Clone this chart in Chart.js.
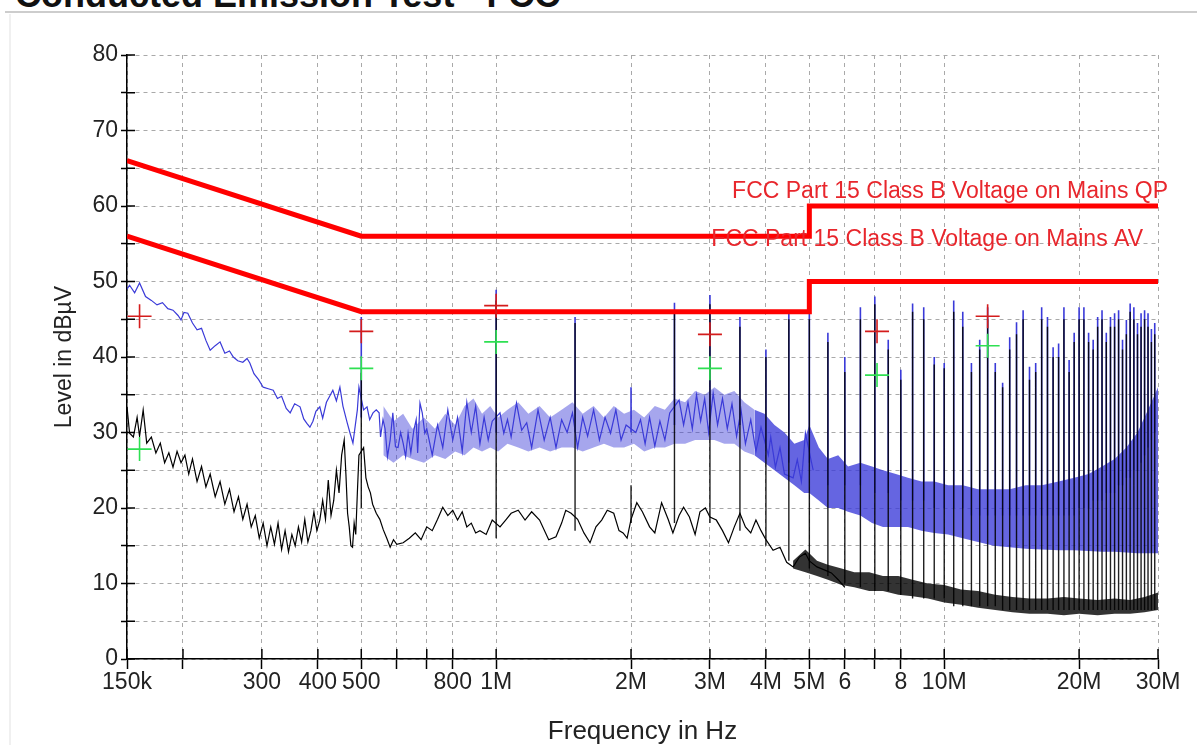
<!DOCTYPE html>
<html>
<head>
<meta charset="utf-8">
<script src="https://cdn.jsdelivr.net/npm/chart.js@4"></script>
<style>
  body { margin: 0; width: 1197px; height: 745px; overflow: hidden; position: relative; background: #fff; }
  #title { position: absolute; left: 15px; top: -23px; font: bold 36px/36px "Liberation Sans", Arial, sans-serif; color: #111; white-space: nowrap; }
  #rule { position: absolute; left: 5px; right: 0; top: 11px; height: 2px; background: #cdcdcd; }
  #panel { position: absolute; left: 9px; top: 14px; right: 0; bottom: 0; border-left: 2px solid #f0f0f0; }
  canvas { position: absolute; left: 0; top: 0; }
</style>
</head>
<body>
<div id="title">Conducted Emission Test - FCC</div>
<div id="rule"></div>
<div id="panel"></div>
<canvas id="chart" width="1197" height="745"></canvas>
<script>
// frequencies are in kHz, levels in dBµV
const FONT = '"Liberation Sans", Arial, sans-serif';

const xTickValues = [150, 200, 300, 400, 500, 600, 700, 800, 1000, 2000, 3000, 4000, 5000, 6000, 7000, 8000, 10000, 20000, 30000];
const xTickLabels = ["150k", "", "300", "400", "500", "", "", "800", "1M", "2M", "3M", "4M", "5M", "6", "", "8", "10M", "20M", "30M"];

const limitNames = ["FCC Part 15 Class B Voltage on Mains QP", "FCC Part 15 Class B Voltage on Mains AV"];
const qpLimitFreq = [150, 500, 5000, 5000, 30000];
const qpLimit = [66, 56, 56, 60, 60];
const avLimitFreq = [150, 500, 5000, 5000, 30000];
const avLimit = [56, 46, 46, 50, 50];

// final measurement markers
const markFreq = [160, 500, 1000, 3000, 7080, 12500];
const qpMark = [45.4, 43.4, 46.8, 43.0, 43.4, 45.4];
const avMark = [27.8, 38.5, 42.0, 38.5, 37.6, 41.5];

// peak scan (blue), below 5 MHz
const pkFreq = [
  150, 152, 156, 160, 165, 170, 175, 180, 185, 190,
  195, 198, 201, 205, 210, 215, 220, 225, 230, 236,
  242, 248, 254, 259, 265, 272, 278, 282, 288, 295,
  302, 310, 318, 325, 332, 340, 347, 355, 365, 372,
  378, 384, 390, 396, 404, 410, 418, 425, 432, 440,
  448, 455, 465, 472, 479, 485, 490, 494, 506, 515,
  522, 531, 540, 548, 552, 559, 565, 572, 580, 588,
  596, 604, 612, 620, 628, 636, 645, 655, 663, 668,
  676, 684, 693, 700, 720, 740, 760, 780, 800, 820,
  840, 860, 880, 900, 920, 940, 960, 980, 1020, 1040,
  1060, 1080, 1110, 1140, 1170, 1200, 1240, 1280, 1320, 1360,
  1400, 1440, 1480, 1520, 1560, 1600, 1650, 1700, 1750, 1800,
  1850, 1900, 1950, 2050, 2100, 2150, 2200, 2260, 2320, 2380,
  2440, 2560, 2620, 2680, 2740, 2800, 2860, 2920, 2980, 3050,
  3120, 3200, 3280, 3360, 3440, 3520, 3600, 3700, 3800, 3900,
  4050, 4100, 4200, 4300, 4400, 4600, 4700, 4800, 4900, 5100
];
const pkLevel = [
  49, 49.5, 48.5, 49.8, 48, 47.5, 46.9, 47.2, 46.4, 46.2,
  45.5, 44.9, 45.9, 45.8, 44.5, 43.6, 43.8, 42.2, 40.9, 41.5,
  42, 40.5, 40.8, 40, 39.5, 39.3, 39.8, 39.2, 37.8, 37,
  36, 35.8, 35.6, 34.5, 34.8, 33.2, 32.6, 33.8, 33.4, 31.8,
  31.2, 30.7, 31.5, 32.8, 33.4, 31.9, 34, 34.8, 35.6, 34.2,
  36, 33.5, 31.3, 29.9, 28.6, 31, 33, 36, 33, 33.4,
  31.7, 32.6, 33, 32.6, 29.4, 31.7, 30.5, 26.8, 29, 32.6,
  28.1, 28, 30, 28.6, 26.8, 29.9, 27.3, 30.3, 31.7, 27.3,
  33.9, 32.6, 29.9, 30.5, 27, 31, 28, 33, 29, 32,
  27.5, 34, 30, 33.5, 28.5, 32, 29, 31.5, 32.6, 29.9,
  31.7, 29.4, 33.9, 30.3, 31.3, 28, 33, 29, 32, 28,
  31.7, 30, 32.6, 28, 32, 29.5, 33, 29, 32, 29.9,
  33, 29, 31, 30, 31.7, 28.5, 32, 28.2, 31.5, 29,
  32.6, 34.3, 31, 34, 30.5, 35, 31.5, 34.5, 30, 35.2,
  31, 34.5, 30.5, 33.8, 29.5, 33, 28.5, 31.7, 27.5, 30.7,
  27, 29.4, 25.4, 28, 24.5, 24, 26.4, 23.5, 29.9, 25
];

// average scan (black), below 6 MHz
const avFreq = [
  150, 152, 155, 158, 160, 163, 166, 170, 174, 178,
  182, 186, 190, 194, 198, 202, 206, 210, 215, 220,
  225, 230, 236, 242, 248, 254, 260, 266, 272, 278,
  284, 290, 296, 302, 308, 314, 320, 326, 332, 338,
  344, 350, 356, 362, 368, 374, 380, 386, 392, 398,
  404, 410, 416, 422, 428, 434, 440, 446, 452, 458,
  462, 466, 470, 474, 478, 482, 486, 490, 494, 506,
  512, 518, 524, 530, 540, 550, 560, 570, 580, 590,
  600, 620, 640, 660, 680, 700, 720, 740, 760, 780,
  800, 820, 840, 860, 880, 900, 920, 950, 980, 1020,
  1050, 1080, 1120, 1160, 1200, 1250, 1310, 1360, 1400, 1430,
  1470, 1520, 1570, 1620, 1670, 1720, 1770, 1830, 1880, 1920,
  1960, 2000, 2060, 2120, 2200, 2260, 2340, 2420, 2480, 2560,
  2620, 2700, 2780, 2850, 2930, 3000, 3100, 3200, 3300, 3400,
  3500, 3600, 3700, 3800, 3900, 4000, 4150, 4300, 4450, 4600,
  4750, 4900, 5000, 5200, 5400, 5600, 5800, 6000
];
const avLevel = [
  33.4, 29.9, 29.4, 32, 29.5, 33, 28.6, 29.4, 27.3, 28.6,
  26, 27.3, 25.4, 27.5, 26, 27, 24.5, 26.5, 23.5, 25.5,
  22.8, 24.5, 21.5, 23.5, 20.5, 22.5, 19.5, 21.5, 18.5, 20.5,
  17.5, 19, 16, 18, 15, 17.5, 15.2, 18, 14.5, 17,
  14.2, 16.5, 15, 17.5, 15.5, 18.5, 15.5, 17, 19.5, 17,
  18.4, 21, 18.5, 23.7, 19, 21, 25, 22, 27, 29,
  24.5, 19.3, 17.5, 15, 14.8, 18, 16.5, 22, 27, 28,
  24, 22.8, 22, 20.5, 19.3, 18.5, 17.1, 16, 14.8, 15.8,
  15.2, 15.4, 16, 16.7, 15.8, 17.5, 17, 18.5, 20.1, 19,
  19.7, 18.4, 19.5, 17.5, 18, 16.7, 17, 16.5, 18.4, 17.5,
  18.4, 19.3, 19.7, 18.4, 19.5, 18.4, 15.8, 16.2, 18, 19.7,
  19.3, 18.5, 16.7, 15.4, 17.5, 18.4, 19.7, 19.3, 17, 16.7,
  16, 18.5, 20.7, 19.5, 17.5, 16.7, 20.7, 18.5, 16.7, 19,
  20.1, 18.8, 16.5, 19.5, 20, 18.8, 18.4, 17, 15.4, 17.5,
  19.3, 17.5, 16.7, 18.4, 17, 15.8, 14.4, 14.8, 12.8, 12.2,
  13.5, 14, 13, 12.2, 11.8, 11.4, 10.5, 9.5
];

// dense noise envelopes
const pkBandFreq = [
  560, 590, 620, 650, 690, 730, 770, 810, 850, 890,
  930, 970, 1010, 1060, 1120, 1180, 1250, 1320, 1400, 1480,
  1560, 1650, 1740, 1830, 1930, 2030, 2140, 2260, 2380, 2500,
  2640, 2780, 2920, 3070, 3230, 3400, 3580, 3770, 3970, 4180,
  4400, 4630, 4870, 5000, 5250, 5500, 5800, 6100, 6500, 6900,
  7300, 7800, 8300, 8900, 9500, 10200, 11000, 11900, 12900, 14000,
  15200, 16500, 18000, 19500, 21000, 22500, 24000, 25500, 27000, 28500,
  30000
];
const pkBandHi = [
  33.5, 31.5, 32.5, 30.5, 32, 30.5, 32.5, 31, 33.5, 34.5,
  32.5, 33.5, 32, 33, 34, 32.5, 33.5, 32, 33, 34,
  32.5, 33.5, 32, 33.5, 32.5, 33, 32, 33.5, 33, 34.5,
  34, 35.5, 35, 36, 35, 35.5, 34, 33, 32.5, 31,
  30, 28.5, 29, 31, 28, 26.5, 27, 25.5, 26, 25.5,
  25, 24.5, 24, 23.5, 23.5, 23, 23, 22.5, 22.5, 22.5,
  23, 23, 23.5, 24, 24.5, 25.5, 26.5, 28, 30, 33,
  36
];
const pkBandLo = [
  27, 26, 27, 26.5, 26, 27, 26.5, 27.5, 27, 28,
  27.5, 28, 27.5, 28.5, 28, 27.5, 28, 27.5, 28, 28,
  27.5, 28, 28.5, 28, 28, 28.5, 27.5, 28, 28, 28.5,
  28.5, 29, 29, 29, 28.5, 28.5, 27.5, 27, 26, 25,
  24, 23, 22, 22, 21, 20, 20, 19.5, 19, 18,
  17.5, 17.5, 17.5, 17, 16.7, 16.5, 16, 15.5, 15, 14.8,
  14.6, 14.5, 14.4, 14.4, 14.3, 14.2, 14.2, 14.1, 14, 14,
  14
];
const avBandFreq = [
  4600, 4900, 5200, 5500, 5900, 6300, 6800, 7300, 7900,
  8500, 9200, 10000, 10900, 11900, 13000, 14200, 15500, 17000, 18500,
  20000, 22000, 24000, 26000, 28000, 30000
];
const avBandHi = [
  13, 14.5, 13, 12.5, 12, 11.5, 11.5, 11, 11,
  10.5, 10, 9.8, 9.2, 9, 8.5, 8.2, 8, 8, 8.2,
  8, 7.8, 8, 7.8, 8.2, 8.8
];
const avBandLo = [
  12, 11.5, 11, 10.5, 9.8, 9.5, 9, 9, 8.5,
  8.3, 8, 7.5, 7.2, 6.8, 6.5, 6.2, 6, 6, 5.8,
  6, 5.8, 6, 6, 6.2, 6.5
];

// 500 kHz harmonics
const spikeFreq = [
  500, 1000, 1500, 2000, 2500, 3000, 3500, 4000, 4500, 5000,
  5500, 6000, 6500, 7000, 7500, 8000, 8500, 9000, 9500, 10000,
  10500, 11000, 11500, 12000, 12500, 13000, 13500, 14000, 14500, 15000,
  15500, 16000, 16500, 17000, 17500, 18000, 18500, 19000, 19500, 20000,
  20500, 21000, 21500, 22000, 22500, 23000, 23500, 24000, 24500, 25000,
  25500, 26000, 26500, 27000, 27500, 28000, 28500, 29000, 29500
];
const pkSpikeTop = [
  45.3, 48.9, 45.3, 36, 47.2, 48.2, 45.3, 41, 45.8, 45.8,
  43.2, 40, 46.6, 48, 42.3, 38.3, 47.1, 46.6, 40, 39.2,
  47.5, 46, 39.2, 42.3, 46.6, 39.2, 36.6, 42.6, 44.6, 46.2,
  38.7, 39.2, 46.6, 45.3, 41.3, 41.8, 46.6, 39.6, 43.2, 46.6,
  46.6, 43.2, 42.3, 45.3, 46.2, 43.2, 45.3, 45.8, 46.2, 42.3,
  44.9, 47.1, 46.6, 44.5, 45.8, 46.2, 45.8, 43.7, 44.5
];
const pkSpikeBase = [
  32, 30, 30, 30, 31, 32, 31, 28, 26, 26,
  23, 23, 23, 22, 22, 21, 21, 21, 20, 20,
  20, 20, 19, 19, 19, 19, 19, 19, 19, 19,
  19, 19, 19, 19, 19, 19, 19, 19, 19, 20,
  20, 20, 21, 21, 21, 22, 22, 22, 23, 23,
  24, 24, 25, 25, 26, 27, 28, 29, 30
];
const avSpikeTop = [
  37.9, 47.5, 44.5, 23, 46, 47, 44, 40, 45, 45,
  42, 38, 45, 47, 41, 37, 46, 45, 39, 38.5,
  46, 44, 38, 41, 45, 38, 36, 41, 43, 45,
  37, 38, 45, 44, 40, 40, 45, 38, 42, 45,
  45, 42, 41, 44, 45, 42, 44, 44, 45, 41,
  43, 46, 45, 43, 44, 45, 44, 42, 43
];
const avSpikeBase = [
  20, 16, 17, 18, 18, 18, 17, 15, 13, 12,
  11, 10, 9.5, 9, 9, 8.5, 8, 8, 8, 8,
  7, 7, 7, 7, 7, 7, 6.5, 6.5, 6.5, 6.5,
  6.5, 6.5, 6.5, 6.5, 6.5, 6.5, 6.5, 6.5, 6.5, 6.5,
  6.5, 6.5, 6.5, 6.5, 6.5, 6.5, 6.5, 6.5, 6.5, 6.5,
  6.5, 6.5, 6.5, 6.5, 6.5, 6.5, 6.5, 6.5, 6.5
];

const pts = (freqs, vals) => freqs.map((f, i) => ({ x: f * 1000, y: vals[i] }));
const spikes = (freqs, base, top) =>
  freqs.flatMap((f, i) => [{ x: f * 1000, y: base[i] }, { x: f * 1000, y: top[i] }, { x: f * 1000, y: null }]);

const BLUE = "#3a3ad8";

const innerTicks = {
  id: "innerTicks",
  afterDraw(chart) {
    const { ctx, chartArea: a, scales: { x, y } } = chart;
    ctx.save();
    ctx.strokeStyle = "#000";
    ctx.lineWidth = 1.5;
    ctx.beginPath();
    y.ticks.forEach(t => {
      const py = y.getPixelForValue(t.value);
      ctx.moveTo(a.left, py);
      ctx.lineTo(a.left + 8, py);
    });
    x.ticks.forEach(t => {
      const px = x.getPixelForValue(t.value);
      ctx.moveTo(px, a.bottom);
      ctx.lineTo(px, a.bottom - 10);
    });
    ctx.stroke();
    ctx.restore();
  }
};

const limitLabels = {
  id: "limitLabels",
  afterDatasetsDraw(chart) {
    const { ctx, chartArea: a, scales: { y } } = chart;
    ctx.save();
    ctx.font = "23px " + FONT;
    ctx.fillStyle = "#e8262c";
    ctx.textAlign = "right";
    ctx.textBaseline = "middle";
    ctx.fillText(limitNames[0], a.right + 10, y.getPixelForValue(61.85));
    ctx.fillText(limitNames[1], a.right - 15, y.getPixelForValue(55.5));
    ctx.restore();
  }
};

new Chart(document.getElementById("chart"), {
  type: "line",
  data: {
    datasets: [
      { label: "QP", data: pts(markFreq, qpMark), showLine: false, pointStyle: "cross", pointRadius: 12, borderColor: "#d41c1c", borderWidth: 1.6 },
      { label: "AV", data: pts(markFreq, avMark), showLine: false, pointStyle: "cross", pointRadius: 12, borderColor: "#2ee052", borderWidth: 1.6 },
      { label: limitNames[0], data: pts(qpLimitFreq, qpLimit), borderColor: "#ff0000", borderWidth: 5 },
      { label: limitNames[1], data: pts(avLimitFreq, avLimit), borderColor: "#ff0000", borderWidth: 5 },
      { label: "AV harmonics", data: spikes(spikeFreq, avSpikeBase, avSpikeTop), borderColor: "rgba(0,0,0,0.88)", borderWidth: 1.4, spanGaps: false },
      { label: "AV scan", data: pts(avFreq, avLevel), borderColor: "#000", borderWidth: 1.2 },
      { label: "AV band hi", data: pts(avBandFreq, avBandHi), borderWidth: 0, fill: "+1", backgroundColor: "rgba(0,0,0,0.8)" },
      { label: "AV band lo", data: pts(avBandFreq, avBandLo), borderWidth: 0 },
      { label: "Peak harmonics", data: spikes(spikeFreq, pkSpikeBase, pkSpikeTop), borderColor: BLUE, borderWidth: 1.6, spanGaps: false },
      { label: "Peak scan", data: pts(pkFreq, pkLevel), borderColor: BLUE, borderWidth: 1.2 },
      {
        label: "Peak band hi", data: pts(pkBandFreq, pkBandHi), borderWidth: 0, fill: "+1",
        backgroundColor: "rgba(58,58,216,0.8)",
        segment: { backgroundColor: c => (c.p0.parsed.x < 3600000 ? "rgba(58,58,216,0.45)" : "rgba(58,58,216,0.78)") }
      },
      { label: "Peak band lo", data: pts(pkBandFreq, pkBandLo), borderWidth: 0 }
    ]
  },
  options: {
    responsive: false,
    animation: false,
    devicePixelRatio: 1,
    layout: { padding: { left: 0, top: 55, right: 39, bottom: 0 } },
    elements: { point: { radius: 0 }, line: { tension: 0 } },
    plugins: { legend: { display: false }, tooltip: { enabled: false } },
    scales: {
      x: {
        type: "logarithmic",
        min: 150000,
        max: 30000000,
        afterBuildTicks: s => { s.ticks = xTickValues.map(v => ({ value: v * 1000 })); },
        afterFit: s => { s.height = 86; },
        ticks: { autoSkip: false, maxRotation: 0, color: "#222", padding: 0, font: { size: 23, family: FONT }, callback: (v, i) => xTickLabels[i] },
        grid: { color: "#a9a9a9", lineWidth: 1, tickColor: "#000", tickLength: 10, tickWidth: 1.5 },
        border: { color: "#000", width: 1.5, dash: [4, 4] },
        title: { display: true, text: "Frequency in Hz", color: "#222", font: { size: 26, family: FONT, lineHeight: 1 }, padding: { top: 0, bottom: 0 } }
      },
      y: {
        min: 0,
        max: 80,
        afterFit: s => { s.width = 127; },
        ticks: { stepSize: 5, color: "#222", padding: 3, font: { size: 23, family: FONT }, callback: v => (v % 10 === 0 ? v : "") },
        grid: { color: "#a9a9a9", lineWidth: 1, tickColor: "#000", tickLength: 6, tickWidth: 1.5 },
        border: { color: "#000", width: 1.5, dash: [4, 4] },
        title: { display: true, text: "Level in dBµV", color: "#222", font: { size: 23, family: FONT, lineHeight: 1 }, padding: { top: 53, bottom: 0 } }
      }
    }
  },
  plugins: [innerTicks, limitLabels]
});
</script>
</body>
</html>
